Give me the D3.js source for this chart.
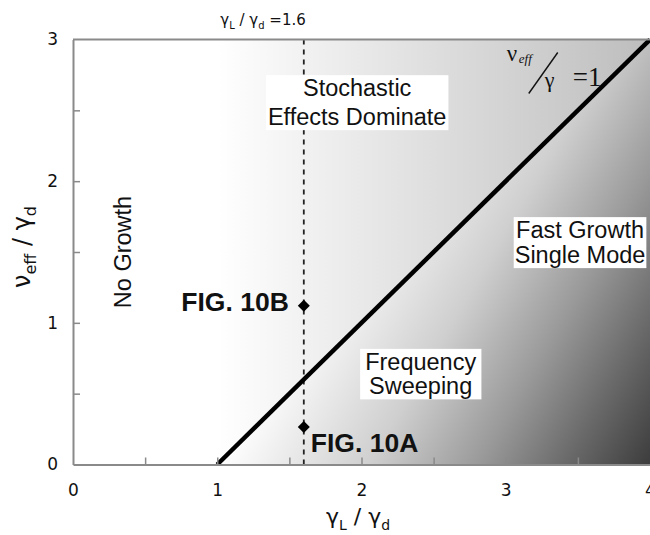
<!DOCTYPE html>
<html>
<head>
<meta charset="utf-8">
<script src="https://cdn.jsdelivr.net/npm/d3@7"></script>
<style>
  body { margin: 0; background: #fff; }
  svg { display: block; }
</style>
</head>
<body>
<svg id="chart" width="650" height="535"></svg>
<script>
/* chart values */
const xTicks = [0, 1, 2, 3, 4];
const yTicks = [0, 1, 2, 3];
const minorTicks = [0.5, 1, 1.5, 2, 2.5, 3, 3.5];
const threshold = [[1, 0], [4, 3]];           // nu_eff / gamma = 1
const markerX = 1.6;                           // gamma_L / gamma_d = 1.6
const cases = [
  { label: "FIG. 10B", x: 1.6, y: 1.12 },
  { label: "FIG. 10A", x: 1.6, y: 0.265 }
];
const stochasticText = ["Stochastic", "Effects Dominate"];
const sweepingText = ["Frequency", "Sweeping"];
const fastText = ["Fast Growth", "Single Mode"];
const noGrowthText = "No Growth";

const svg = d3.select("#chart");
const x = d3.scaleLinear().domain([0, 4]).range([73, 650]);
const y = d3.scaleLinear().domain([0, 3]).range([464.5, 39.5]);
const axisColor = "#8a8a8a";
const sans = "'Liberation Sans', Arial, sans-serif";
const verdana = "'DejaVu Sans', Verdana, sans-serif";
const serif = "'Liberation Serif', 'Times New Roman', serif";

/* gradients */
const defs = svg.append("defs");
const gAbove = defs.append("linearGradient").attr("id", "above")
  .attr("gradientUnits", "userSpaceOnUse")
  .attr("x1", x(1)).attr("y1", 0).attr("x2", x(4)).attr("y2", 0);
gAbove.append("stop").attr("offset", 0).attr("stop-color", "#ffffff");
gAbove.append("stop").attr("offset", 1).attr("stop-color", "#bdbdbd");

const gBelow = defs.append("linearGradient").attr("id", "below")
  .attr("gradientUnits", "userSpaceOnUse")
  .attr("x1", x(1)).attr("y1", y(0)).attr("x2", x(1) + 323).attr("y2", y(0) + 189);
[[0, "#ffffff"], [0.35, "#cfcfcf"], [0.6, "#9a9a9a"], [0.8, "#6a6a6a"], [1, "#3c3c3c"]]
  .forEach(s => gBelow.append("stop").attr("offset", s[0]).attr("stop-color", s[1]));

/* regions split by threshold line */
const [p0, p1] = threshold;
const poly = pts => pts.map(p => [x(p[0]), y(p[1])].join(",")).join(" ");
svg.append("polygon")
  .attr("points", poly([[0, 0], p0, p1, [0, 3]]))
  .attr("fill", "url(#above)");
svg.append("polygon")
  .attr("points", poly([p0, [4, 0], p1]))
  .attr("fill", "url(#below)");

/* dashed marker line */
svg.append("line")
  .attr("x1", x(markerX)).attr("x2", x(markerX))
  .attr("y1", y(3)).attr("y2", y(0))
  .attr("stroke", "#222").attr("stroke-width", 1.8)
  .attr("stroke-dasharray", "5,5");

/* threshold line */
svg.append("line")
  .attr("x1", x(p0[0])).attr("y1", y(p0[1]))
  .attr("x2", x(p1[0])).attr("y2", y(p1[1]))
  .attr("stroke", "#000").attr("stroke-width", 4.5);

/* boxed region labels */
function boxedLabel(lines, cx, baseline, lineH, padX) {
  const g = svg.append("g");
  const rect = g.append("rect").attr("fill", "#fff");
  const t = g.append("text")
    .attr("font-family", sans).attr("font-size", 23.5)
    .attr("text-anchor", "middle").attr("fill", "#111");
  lines.forEach((s, i) => {
    t.append("tspan").attr("x", cx).attr("y", baseline + i * lineH).text(s);
  });
  const b = t.node().getBBox();
  rect.attr("x", b.x - padX).attr("y", b.y)
    .attr("width", b.width + 2 * padX).attr("height", b.height);
}
boxedLabel(stochasticText, x(1.97), y(2.6), 29, 2);
boxedLabel(sweepingText, x(2.41), y(0.668), 24.5, 5);
boxedLabel(fastText, x(3.515), y(1.598), 25, 1);

svg.append("text")
  .attr("transform", `translate(${x(0.4)},${y(1.5)}) rotate(-90)`)
  .attr("text-anchor", "middle")
  .attr("font-family", sans).attr("font-size", 23.5).attr("fill", "#111")
  .text(noGrowthText);

/* case markers */
svg.selectAll("path.case").data(cases).join("path")
  .attr("class", "case")
  .attr("transform", d => `translate(${x(d.x)},${y(d.y)}) rotate(45)`)
  .attr("d", d3.symbol().type(d3.symbolSquare).size(72))
  .attr("fill", "#000");
svg.append("text")
  .attr("x", x(cases[0].x) - 15).attr("y", y(cases[0].y) + 5)
  .attr("text-anchor", "end")
  .attr("font-family", sans).attr("font-weight", "bold").attr("font-size", 26.5)
  .attr("fill", "#111").text(cases[0].label);
svg.append("text")
  .attr("x", x(cases[1].x) + 7).attr("y", y(cases[1].y) + 25)
  .attr("font-family", sans).attr("font-weight", "bold").attr("font-size", 26.5)
  .attr("fill", "#111").text(cases[1].label);

/* axes with inward ticks */
const fmt = d => Number.isInteger(d) ? d : "";
const xAxis = svg.append("g").attr("transform", `translate(0,${y(0)})`)
  .call(d3.axisBottom(x).tickValues([0, ...minorTicks, 4]).tickFormat(fmt)
    .tickSize(-7).tickSizeOuter(0).tickPadding(19));
const yAxis = svg.append("g").attr("transform", `translate(${x(0)},0)`)
  .call(d3.axisLeft(y).tickValues([0, 0.5, 1, 1.5, 2, 2.5, 3]).tickFormat(fmt)
    .tickSize(-7).tickSizeOuter(0).tickPadding(15));
[xAxis, yAxis].forEach(a => {
  a.select(".domain").attr("stroke", axisColor).attr("stroke-width", 2);
  a.selectAll(".tick line").attr("stroke", axisColor).attr("stroke-width", 1.5);
  a.selectAll(".tick text").attr("font-family", verdana).attr("font-size", 17).attr("fill", "#111");
});
xAxis.selectAll(".tick").filter(d => d === 0 || d === 4).select("line").remove();
yAxis.selectAll(".tick").filter(d => d === 0 || d === 3).select("line").remove();
svg.append("line")
  .attr("x1", x(0)).attr("x2", x(4)).attr("y1", y(3)).attr("y2", y(3))
  .attr("stroke", axisColor).attr("stroke-width", 2);

/* rich text with subscripts */
function rich(sel, parts, size, subSize) {
  parts.forEach(([s, sub]) => {
    const ts = sel.append("tspan").text(s).attr("font-size", sub ? subSize : size);
    if (sub) ts.attr("dy", size * 0.25);
    else if (sel.selectAll("tspan").size() > 1) ts.attr("dy", -size * 0.25);
  });
}

/* axis titles */
const xt = svg.append("text")
  .attr("x", 358).attr("y", 524).attr("text-anchor", "middle")
  .attr("font-family", verdana).attr("fill", "#111");
rich(xt, [["γ"], ["L", true], [" / γ"], ["d", true]], 22, 14);

const yt = svg.append("text")
  .attr("transform", "translate(30,247) rotate(-90)").attr("text-anchor", "middle")
  .attr("font-family", verdana).attr("fill", "#111");
rich(yt, [["ν"], ["eff", true], [" / γ"], ["d", true]], 24, 16);

/* marker line label */
const mt = svg.append("text")
  .attr("x", x(markerX) + 2).attr("y", 25).attr("text-anchor", "end")
  .attr("font-family", verdana).attr("fill", "#111");
rich(mt, [["γ"], ["L", true], [" / γ"], ["d", true], [" =1.6"]], 15, 10);

/* threshold annotation */
const ax = x(3), ay = y(3);
svg.append("text").attr("x", ax + 1).attr("y", ay + 21)
  .attr("font-family", serif).attr("font-size", 23).attr("fill", "#111").text("ν");
svg.append("text").attr("x", ax + 13).attr("y", ay + 23)
  .attr("font-family", serif).attr("font-style", "italic").attr("font-size", 13)
  .attr("fill", "#111").text("eff");
svg.append("line")
  .attr("x1", ax + 52).attr("y1", ay + 13).attr("x2", ax + 23).attr("y2", ay + 54)
  .attr("stroke", "#111").attr("stroke-width", 1.4);
svg.append("text").attr("x", ax + 39).attr("y", ay + 47)
  .attr("font-family", serif).attr("font-size", 22).attr("fill", "#111").text("γ");
svg.append("text").attr("x", ax + 67).attr("y", ay + 46)
  .attr("font-family", serif).attr("font-size", 27).attr("fill", "#111").text("=1");
</script>
</body>
</html>
